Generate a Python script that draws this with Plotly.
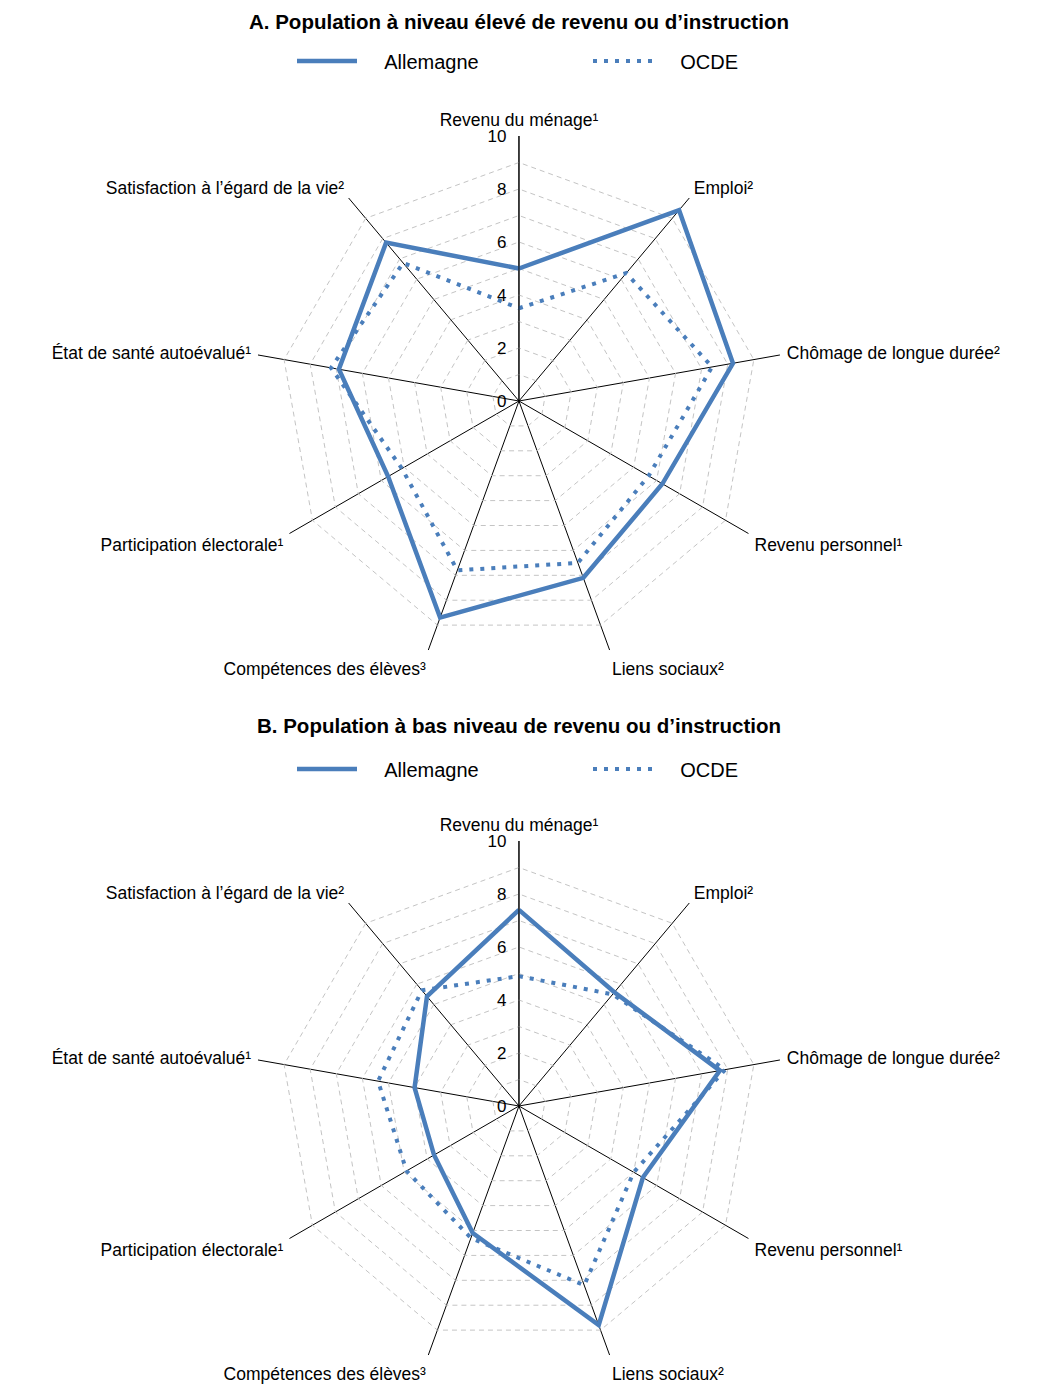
import plotly.graph_objects as go

# Dimensions (axes of the radar)
categories = [
    "Revenu du ménage¹",
    "Emploi²",
    "Chômage de longue durée²",
    "Revenu personnel¹",
    "Liens sociaux²",
    "Compétences des élèves³",
    "Participation électorale¹",
    "État de santé autoévalué¹",
    "Satisfaction à l’égard de la vie²",
]

# A. Population à niveau élevé de revenu ou d'instruction
haut_allemagne = [5.0, 9.4, 8.2, 6.25, 7.1, 8.7, 5.7, 6.9, 7.8]
haut_ocde = [3.5, 6.3, 7.4, 5.65, 6.5, 6.8, 5.1, 7.2, 6.8]

# B. Population à bas niveau de revenu ou d'instruction
bas_allemagne = [7.4, 5.6, 7.7, 5.4, 8.8, 5.1, 3.7, 4.0, 5.4]
bas_ocde = [4.9, 5.5, 7.9, 5.0, 7.2, 5.3, 4.9, 5.4, 5.7]

radial_ticks = list(range(0, 11))
radial_labels = [str(v) if v % 2 == 0 else "" for v in radial_ticks]

titles = [
    "A. Population à niveau élevé de revenu ou d’instruction",
    "B. Population à bas niveau de revenu ou d’instruction",
]
series_names = ["Allemagne", "OCDE"]

BLUE = "#4a7ebb"
FONT = "Liberation Sans, Arial, sans-serif"
W, H = 1040, 1384
PAD = "\u00a0" * 4  # gap between legend key and its label


def closed(values):
    return list(values) + [values[0]]


theta = closed(categories)

fig = go.Figure()
panels = [
    ("polar", "legend", haut_allemagne, haut_ocde),
    ("polar2", "legend2", bas_allemagne, bas_ocde),
]
for subplot, legend, de, ocde in panels:
    fig.add_trace(go.Scatterpolar(
        r=closed(de), theta=theta, mode="lines", name=PAD + series_names[0],
        line=dict(color=BLUE, width=4.5), subplot=subplot, legend=legend,
    ))
    fig.add_trace(go.Scatterpolar(
        r=closed(ocde), theta=theta, mode="lines", name=PAD + series_names[1],
        line=dict(color=BLUE, width=4, dash="4px,7px"), subplot=subplot, legend=legend,
    ))


R = 265
centers = [401, 1106]


def dom(cy):
    return [1 - (cy + R) / H, 1 - (cy - R) / H]


def polar_layout(cy):
    return dict(
        domain=dict(x=[0, 0.998], y=dom(cy)),
        bgcolor="white",
        gridshape="linear",
        radialaxis=dict(
            range=[0, 10], tickvals=radial_ticks, ticktext=radial_labels,
            angle=90, side="counterclockwise", tickangle=90,
            showline=True, linecolor="black", linewidth=1,
            gridcolor="#c4c4c4", griddash="5px,4px", gridwidth=1,
            ticks="outside", ticklen=6, tickcolor="rgba(0,0,0,0)",
            tickfont=dict(size=17, color="black", family=FONT),
        ),
        angularaxis=dict(
            direction="clockwise", rotation=90, showline=False,
            gridcolor="black", gridwidth=1,
            ticks="outside", ticklen=3, tickcolor="rgba(0,0,0,0)",
            tickfont=dict(size=17.5, color="black", family=FONT),
        ),
    )


def legend_layout(y_px):
    return dict(
        orientation="h", x=292 / W, y=1 - y_px / H, xanchor="left", yanchor="middle",
        font=dict(size=20, color="black", family=FONT),
        itemwidth=60, entrywidth=221, bgcolor="rgba(0,0,0,0)",
    )


def title_annotation(text, y_px):
    return dict(text=f"<b>{text}</b>", x=519 / W, y=1 - y_px / H, xref="paper", yref="paper",
                xanchor="center", yanchor="middle", showarrow=False,
                font=dict(size=20.5, color="black", family=FONT))


fig.update_layout(
    width=W, height=H,
    margin=dict(l=0, r=0, t=0, b=0),
    paper_bgcolor="white",
    font=dict(family=FONT, color="black"),
    polar=polar_layout(centers[0]),
    polar2=polar_layout(centers[1]),
    legend=legend_layout(61),
    legend2=legend_layout(769),
    annotations=[title_annotation(titles[0], 22), title_annotation(titles[1], 725)],
)

fig.write_html("out.html")
